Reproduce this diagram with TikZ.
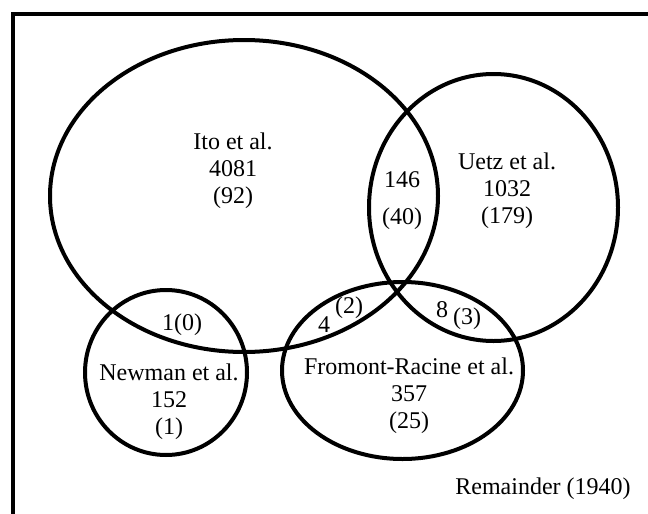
\documentclass[tikz,border=0pt]{standalone}
\usepackage{fontspec}
\setmainfont{Liberation Serif}
\usetikzlibrary{positioning}
\tikzset{
  setline/.style={line width=4pt},
  framebox/.style={line width=4pt, line join=miter},
  setlabel/.style={font=\fontsize{24}{27}\selectfont, align=center, inner sep=0pt},
  overlap/.style={font=\fontsize{24}{27}\selectfont, inner sep=0pt}
}

\begin{document}
\begin{tikzpicture}[x=1pt,y=-1pt]
\useasboundingbox (0,0) rectangle (648,514);

% --- Frame ---
\draw[framebox] (13,514) -- (13,13.5) -- (648,13.5);

% --- Sets ---
\draw[setline] (244,196) ellipse [x radius=194pt, y radius=156pt];
\draw[setline] (493.5,207.5) ellipse [x radius=124.5pt, y radius=133.5pt];
\draw[setline] (166,372.5) ellipse [x radius=81pt, y radius=82.5pt];
\draw[setline] (402.5,370.5) ellipse [x radius=120.5pt, y radius=88.5pt];

% --- Set labels ---
\node[setlabel] (ito) at (233,171) {Ito et al.\\4081\\(92)};
\node[setlabel] (uetz) at (507,191) {Uetz et al.\\1032\\(179)};
\node[setlabel] (newman) at (169,402) {Newman et al.\\152\\(1)};
\node[setlabel] (fromont) at (409,396) {Fromont-Racine et al.\\357\\(25)};

% --- Overlaps ---
\node[setlabel] (itouetz) at (402,201) {146\\[10pt](40)};
\node[overlap] (itonewman) at (182,325) {1(0)};
\node[overlap] (itofromont) at (324,325) {4};
\node[overlap] (itofromontb) at (349,308) {(2)};
\node[overlap] (uetzfromont) at (442,310) {8};
\node[overlap] (uetzfromontb) at (467,319) {(3)};

% --- Remainder ---
\node[overlap] (remainder) at (543,489) {Remainder (1940)};

\end{tikzpicture}
\end{document}
